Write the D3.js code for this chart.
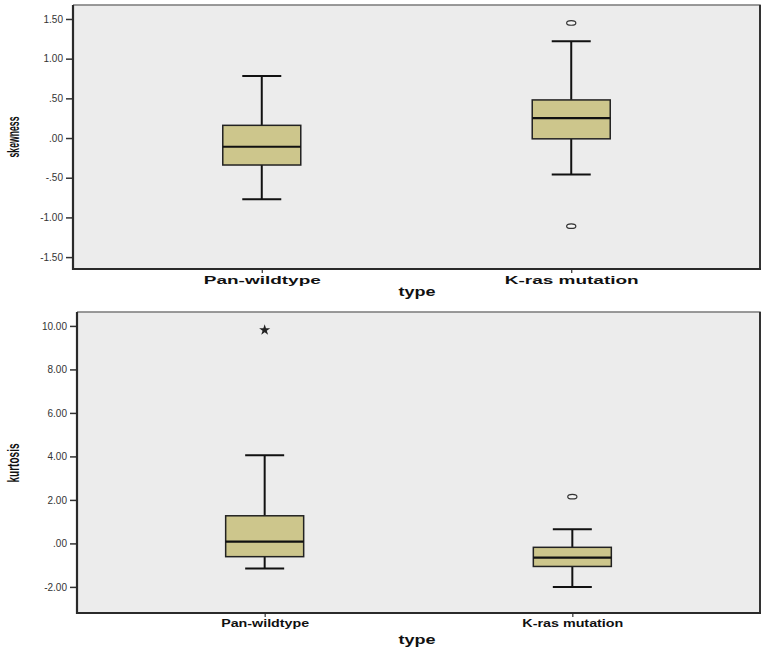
<!DOCTYPE html>
<html>
<head>
<meta charset="utf-8">
<script src="https://cdn.jsdelivr.net/npm/d3@7"></script>
<style>
  html, body { margin: 0; padding: 0; background: #ffffff; }
  svg { display: block; }
</style>
</head>
<body>
<svg id="chart" width="768" height="651"></svg>
<script>
// ---------- data ----------
const categories = ["Pan-wildtype", "K-ras mutation"];

// skewness panel
const skewMin    = [-0.77, -0.46];
const skewQ1     = [-0.34, -0.01];
const skewMedian = [-0.11,  0.25];
const skewQ3     = [ 0.16,  0.48];
const skewMax    = [ 0.78,  1.22];
const skewOutliers = [[], [1.45, -1.11]];
const skewExtremes = [[], []];
const skewTicks = [-1.5, -1.0, -0.5, 0, 0.5, 1.0, 1.5];

// kurtosis panel
const kurtMin    = [-1.15, -2.00];
const kurtQ1     = [-0.61, -1.06];
const kurtMedian = [ 0.08, -0.65];
const kurtQ3     = [ 1.27, -0.18];
const kurtMax    = [ 4.05,  0.65];
const kurtOutliers = [[], [2.15]];
const kurtExtremes = [[9.81], []];
const kurtTicks = [-2, 0, 2, 4, 6, 8, 10];

// ---------- drawing ----------
const svg = d3.select("#chart");

function spssFmt(v) {
  let s = Math.abs(v).toFixed(2);
  if (Math.abs(v) < 1) s = s.replace(/^0/, "");
  return (v < 0 ? "-" : "") + s;
}

function panel(cfg) {
  const g = svg.append("g");
  const x = d3.scalePoint().domain(categories).range([cfg.left, cfg.right]).padding(0.61);
  const y = d3.scaleLinear().domain(cfg.domain).range([cfg.bottom, cfg.top]);

  g.append("rect")
    .attr("x", cfg.left).attr("y", cfg.top)
    .attr("width", cfg.right - cfg.left).attr("height", cfg.bottom - cfg.top)
    .attr("fill", "#ececec");
  g.append("path")
    .attr("d", `M${cfg.left},${cfg.top}H${cfg.right}V${cfg.bottom}`)
    .attr("fill", "none").attr("stroke", "#7a7a7a").attr("stroke-width", 1.5);
  g.append("line")
    .attr("x1", cfg.right).attr("x2", cfg.right).attr("y1", cfg.top).attr("y2", cfg.bottom)
    .attr("stroke", "#333").attr("stroke-width", 2);

  const ya = g.append("g")
    .attr("transform", `translate(${cfg.left},0)`)
    .call(d3.axisLeft(y).tickValues(cfg.ticks).tickFormat(spssFmt).tickSize(7).tickPadding(3));
  ya.select(".domain").remove();
  ya.selectAll(".tick line").attr("stroke", "#333").attr("stroke-width", 1.5);
  ya.selectAll(".tick text")
    .attr("font-family", "Liberation Sans, Arial, sans-serif")
    .attr("font-size", "10px").attr("fill", "#333");
  g.append("line")
    .attr("x1", cfg.left).attr("x2", cfg.left)
    .attr("y1", cfg.top).attr("y2", cfg.bottom + 1)
    .attr("stroke", "#2a2a2a").attr("stroke-width", 2.2);

  const xa = g.append("g")
    .attr("transform", `translate(0,${cfg.bottom})`)
    .call(d3.axisBottom(x).tickSize(4).tickPadding(cfg.xPad));
  xa.select(".domain").remove();
  xa.selectAll(".tick line").attr("stroke", "#333").attr("stroke-width", 1.2);
  xa.selectAll(".tick text")
    .attr("font-family", "Liberation Sans, Arial, sans-serif")
    .attr("font-weight", "bold")
    .attr("font-size", cfg.catSize + "px").attr("fill", "#111")
    .each(function(d, i) {
      d3.select(this).attr("textLength", cfg.catLen[i]).attr("lengthAdjust", "spacingAndGlyphs");
    });
  g.append("line")
    .attr("x1", cfg.left - 1).attr("x2", cfg.right + 1)
    .attr("y1", cfg.bottom).attr("y2", cfg.bottom)
    .attr("stroke", "#2a2a2a").attr("stroke-width", 2.2);

  g.append("text")
    .attr("x", 417).attr("y", cfg.typeY)
    .attr("text-anchor", "middle")
    .attr("font-family", "Liberation Sans, Arial, sans-serif")
    .attr("font-weight", "bold").attr("font-size", "12px").attr("fill", "#111")
    .attr("textLength", 37).attr("lengthAdjust", "spacingAndGlyphs")
    .text("type");
  g.append("text")
    .attr("transform", `translate(19,${cfg.titleY}) rotate(-90)`)
    .attr("text-anchor", "middle")
    .attr("font-family", "Liberation Sans, Arial, sans-serif")
    .attr("font-weight", "bold").attr("font-size", "16px").attr("fill", "#111")
    .attr("textLength", cfg.titleLen).attr("lengthAdjust", "spacingAndGlyphs")
    .text(cfg.title);

  const boxW = 78, capW = 39;
  categories.forEach((c, i) => {
    const cx = x(c);
    const bg = g.append("g");
    bg.append("line").attr("x1", cx).attr("x2", cx)
      .attr("y1", y(cfg.max[i])).attr("y2", y(cfg.q3[i]))
      .attr("stroke", "#111").attr("stroke-width", 2);
    bg.append("line").attr("x1", cx).attr("x2", cx)
      .attr("y1", y(cfg.q1[i])).attr("y2", y(cfg.min[i]))
      .attr("stroke", "#111").attr("stroke-width", 2);
    bg.append("line").attr("x1", cx - capW / 2).attr("x2", cx + capW / 2)
      .attr("y1", y(cfg.max[i])).attr("y2", y(cfg.max[i]))
      .attr("stroke", "#111").attr("stroke-width", 2);
    bg.append("line").attr("x1", cx - capW / 2).attr("x2", cx + capW / 2)
      .attr("y1", y(cfg.min[i])).attr("y2", y(cfg.min[i]))
      .attr("stroke", "#111").attr("stroke-width", 2);
    bg.append("rect")
      .attr("x", cx - boxW / 2).attr("y", y(cfg.q3[i]))
      .attr("width", boxW).attr("height", y(cfg.q1[i]) - y(cfg.q3[i]))
      .attr("fill", "#cdc68c").attr("stroke", "#222").attr("stroke-width", 1.5);
    bg.append("line").attr("x1", cx - boxW / 2).attr("x2", cx + boxW / 2)
      .attr("y1", y(cfg.median[i])).attr("y2", y(cfg.median[i]))
      .attr("stroke", "#111").attr("stroke-width", 2.2);
    cfg.outliers[i].forEach(v => {
      bg.append("ellipse").attr("cx", cx).attr("cy", y(v))
        .attr("rx", 4.6).attr("ry", 2.3)
        .attr("fill", "#f4f4f4").attr("stroke", "#333").attr("stroke-width", 1.2);
    });
    cfg.extremes[i].forEach(v => {
      bg.append("path")
        .attr("transform", `translate(${cx},${y(v)})`)
        .attr("d", d3.symbol().type(d3.symbolStar).size(38)())
        .attr("fill", "#222");
    });
  });
}

panel({
  left: 73, right: 760, top: 5, bottom: 269,
  domain: [-1.65, 1.676], ticks: skewTicks,
  min: skewMin, q1: skewQ1, median: skewMedian, q3: skewQ3, max: skewMax,
  outliers: skewOutliers, extremes: skewExtremes,
  xPad: 3, catSize: 11, catLen: [117, 134],
  typeY: 296, title: "skewness", titleY: 137, titleLen: 41
});

panel({
  left: 77, right: 760, top: 312, bottom: 613,
  domain: [-3.2, 10.64], ticks: kurtTicks,
  min: kurtMin, q1: kurtQ1, median: kurtMedian, q3: kurtQ3, max: kurtMax,
  outliers: kurtOutliers, extremes: kurtExtremes,
  xPad: 3, catSize: 10, catLen: [88, 101],
  typeY: 644, title: "kurtosis", titleY: 463, titleLen: 39
});
</script>
</body>
</html>
